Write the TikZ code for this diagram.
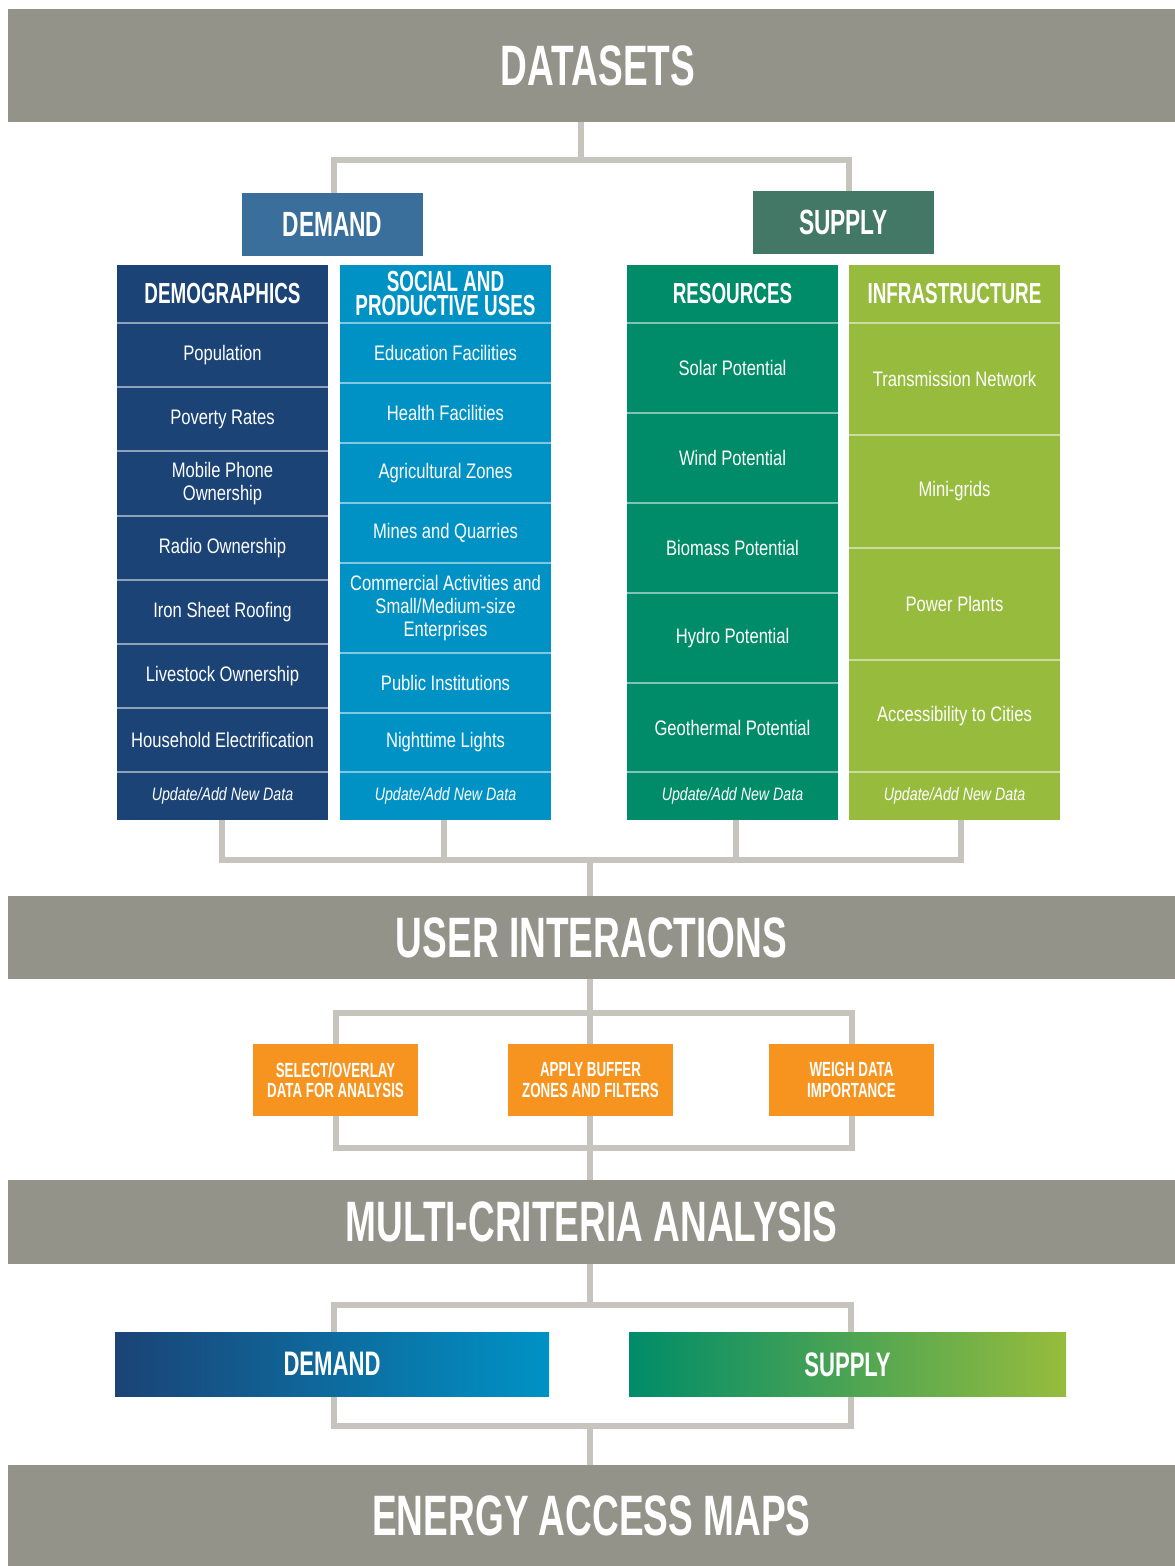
\documentclass[tikz,border=0pt]{standalone}
\usepackage{fontspec}
\setmainfont{Liberation Sans}[FakeStretch=0.79]
\newfontfamily\headfont{Liberation Sans}[FakeStretch=0.65]
\usetikzlibrary{backgrounds}
\definecolor{bannergray}{HTML}{939389}
\definecolor{conncol}{HTML}{C7C4BE}
\definecolor{democol}{HTML}{1B4376}
\definecolor{soccol}{HTML}{0092C5}
\definecolor{rescol}{HTML}{008C69}
\definecolor{infracol}{HTML}{97BC3D}
\definecolor{demandbox}{HTML}{3A6F9C}
\definecolor{supplybox}{HTML}{437766}
\definecolor{orangebox}{HTML}{F7941F}
\begin{document}
\begin{tikzpicture}[x=1pt,y=-1pt,
  banner/.style={fill=bannergray, text=white, inner sep=0pt, minimum width=1167pt,
    font=\headfont\bfseries\fontsize{57}{60}\selectfont},
  cell/.style={fill=#1, text=white, inner sep=0pt, minimum width=211pt, align=center,
    font=\fontsize{21}{23.3}\selectfont},
  hdr/.style={font=\headfont\bfseries\fontsize{29}{24}\selectfont},
  upd/.style={font=\itshape\fontsize{18}{20}\selectfont},
  lvl/.style={fill=#1, text=white, inner sep=0pt, minimum width=181pt, minimum height=63pt,
    font=\headfont\bfseries\fontsize{35}{38}\selectfont},
  obox/.style={fill=orangebox, text=white, inner sep=0pt, minimum width=165pt, minimum height=72pt,
    align=center, font=\headfont\bfseries\fontsize{20.5}{20.5}\selectfont},
  gbox/.style={text=white, inner sep=0pt, minimum height=64pt,
    font=\headfont\bfseries\fontsize{34}{36}\selectfont},
  sep/.style={draw=white, draw opacity=0.5, line width=2pt},
  conn/.style={draw=conncol, line width=6pt, line join=miter}]
\useasboundingbox (0,0) rectangle (1175,1566);

% banners
\node[banner, minimum height=113pt] (ds) at (591.5,65.5) {\hspace*{13pt}DATASETS};
\node[banner, minimum height=83pt] (ui) at (591.5,937.5) {USER INTERACTIONS};
\node[banner, minimum height=84pt] (mca) at (591.5,1222) {MULTI-CRITERIA ANALYSIS};
\node[banner, minimum height=101pt] (eam) at (591.5,1515.5) {ENERGY ACCESS MAPS};

% level boxes
\node[lvl=demandbox] (dem) at (332.5,224.5) {DEMAND};
\node[lvl=supplybox] (sup) at (843.5,222.5) {SUPPLY};

% demographics column
\node[cell=democol, hdr, minimum height=59pt] (dh) at (222.5,294) {DEMOGRAPHICS};
\node[cell=democol, minimum height=64pt] (d1) at (222.5,355) {Population};
\node[cell=democol, minimum height=64pt] (d2) at (222.5,419) {Poverty Rates};
\node[cell=democol, minimum height=65pt] (d3) at (222.5,483.5) {Mobile Phone\\Ownership};
\node[cell=democol, minimum height=64pt] (d4) at (222.5,548) {Radio Ownership};
\node[cell=democol, minimum height=64pt] (d5) at (222.5,612) {Iron Sheet Roofing};
\node[cell=democol, minimum height=64pt] (d6) at (222.5,676) {Livestock Ownership};
\node[cell=democol, minimum height=64pt] (d7) at (222.5,740) {Household Electrification};
\node[cell=democol, upd, minimum height=48pt] (du) at (222.5,796) {Update/Add New Data};

% social column
\node[cell=soccol, hdr, minimum height=59pt] (sh) at (445.5,294) {SOCIAL AND\\PRODUCTIVE USES};
\node[cell=soccol, minimum height=60pt] (s1) at (445.5,353) {Education Facilities};
\node[cell=soccol, minimum height=60pt] (s2) at (445.5,413) {Health Facilities};
\node[cell=soccol, minimum height=60pt] (s3) at (445.5,473) {Agricultural Zones};
\node[cell=soccol, minimum height=60pt] (s4) at (445.5,533) {Mines and Quarries};
\node[cell=soccol, minimum height=90pt] (s5) at (445.5,608) {Commercial Activities and\\Small/Medium-size\\Enterprises};
\node[cell=soccol, minimum height=60pt] (s6) at (445.5,683) {Public Institutions};
\node[cell=soccol, minimum height=59pt] (s7) at (445.5,742.5) {Nighttime Lights};
\node[cell=soccol, upd, minimum height=48pt] (su) at (445.5,796) {Update/Add New Data};

% resources column
\node[cell=rescol, hdr, minimum height=59pt] (rh) at (732.5,294) {RESOURCES};
\node[cell=rescol, minimum height=90pt] (r1) at (732.5,368) {Solar Potential};
\node[cell=rescol, minimum height=90pt] (r2) at (732.5,458) {Wind Potential};
\node[cell=rescol, minimum height=90pt] (r3) at (732.5,548) {Biomass Potential};
\node[cell=rescol, minimum height=90pt] (r4) at (732.5,638) {Hydro Potential};
\node[cell=rescol, minimum height=89pt] (r5) at (732.5,727.5) {Geothermal Potential};
\node[cell=rescol, upd, minimum height=48pt] (ru) at (732.5,796) {Update/Add New Data};

% infrastructure column
\node[cell=infracol, hdr, minimum height=59pt] (ih) at (954.5,294) {INFRASTRUCTURE};
\node[cell=infracol, minimum height=112pt] (i1) at (954.5,379) {Transmission Network};
\node[cell=infracol, minimum height=113pt] (i2) at (954.5,491.5) {Mini-grids};
\node[cell=infracol, minimum height=112pt] (i3) at (954.5,604) {Power Plants};
\node[cell=infracol, minimum height=112pt] (i4) at (954.5,716) {Accessibility to Cities};
\node[cell=infracol, upd, minimum height=48pt] (iu) at (954.5,796) {Update/Add New Data};

% separators
\foreach \c in {d1,d2,d3,d4,d5,d6,d7,du,s1,s2,s3,s4,s5,s6,s7,su,r1,r2,r3,r4,r5,ru,i1,i2,i3,i4,iu}
  \draw[sep] (\c.north west) -- (\c.north east);

% user interaction boxes
\node[obox] (sel) at (335.5,1080) {SELECT/OVERLAY\\DATA FOR ANALYSIS};
\node[obox] (buf) at (590.5,1080) {APPLY BUFFER\\ZONES AND FILTERS};
\node[obox] (wei) at (851.5,1080) {WEIGH DATA\\IMPORTANCE};

% gradient boxes
\node[gbox, minimum width=434pt, left color=democol, right color=soccol] (gdem) at (332,1364) {DEMAND};
\node[gbox, minimum width=437pt, left color=rescol, right color=infracol] (gsup) at (847.5,1364.5) {SUPPLY};

% junction coordinates
\coordinate (t1) at (581,160);
\coordinate (jb) at (590,860);
\coordinate (u1) at (590,1013);
\coordinate (u2) at (590,1148);
\coordinate (m1) at (590,1305);
\coordinate (m2) at (590,1426);

\begin{scope}[on background layer]
  \draw[conn] (ds.south -| t1) -- (t1);
  \draw[conn] ([xshift=1.5pt]dem.north) |- (t1) -| ([xshift=5pt]sup.north);
  \draw[conn] ([xshift=-0.5pt]du.south) |- (jb);
  \draw[conn] ([xshift=-1.5pt]su.south) |- (jb);
  \draw[conn] ([xshift=3.5pt]ru.south) |- (jb);
  \draw[conn] ([xshift=6.5pt]iu.south) |- (jb);
  \draw[conn] (jb) -- (ui.north -| jb);
  \draw[conn] (ui.south -| u1) -- (mca.north -| u1);
  \draw[conn] (sel.north) |- (u1) -| (wei.north);
  \draw[conn] (sel.south) |- (u2) -| (wei.south);
  \draw[conn] (mca.south -| m1) -- (m1);
  \draw[conn] ([xshift=2pt]gdem.north) |- (m1) -| ([xshift=3pt]gsup.north);
  \draw[conn] ([xshift=2pt]gdem.south) |- (m2) -| ([xshift=3pt]gsup.south);
  \draw[conn] (m2) -- (eam.north -| m2);
\end{scope}
\end{tikzpicture}
\end{document}
